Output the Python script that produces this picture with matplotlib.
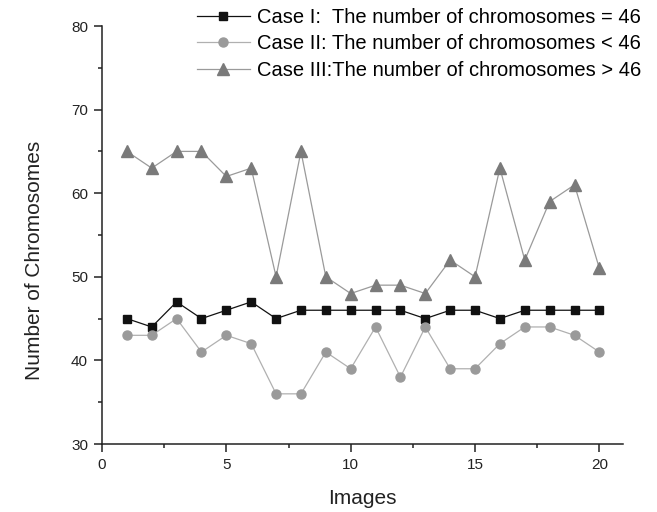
import matplotlib
matplotlib.use("Agg")
import matplotlib.pyplot as plt
from matplotlib.ticker import MultipleLocator

plt.rcParams["font.family"] = ["Liberation Sans", "DejaVu Sans"]

# image index on the x axis
images = list(range(1, 21))

# chromosome counts per case
case_1 = [45, 44, 47, 45, 46, 47, 45, 46, 46, 46, 46, 46, 45, 46, 46, 45, 46, 46, 46, 46]
case_2 = [43, 43, 45, 41, 43, 42, 36, 36, 41, 39, 44, 38, 44, 39, 39, 42, 44, 44, 43, 41]
case_3 = [65, 63, 65, 65, 62, 63, 50, 65, 50, 48, 49, 49, 48, 52, 50, 63, 52, 59, 61, 51]

labels = [
    "Case I:  The number of chromosomes = 46",
    "Case II: The number of chromosomes < 46",
    "Case III:The number of chromosomes > 46",
]

fig = plt.figure(figsize=(6.57, 5.12), dpi=100)
ax = fig.add_axes([102 / 657, 1 - 444 / 512, (623 - 102) / 657, (444 - 26) / 512])

ax.plot(images, case_1, color="#111111", lw=0.9, marker="s", ms=6,
        mfc="#111111", mec="#111111", label=labels[0])
ax.plot(images, case_2, color="#b0b0b0", lw=0.9, marker="o", ms=6.5,
        mfc="#9a9a9a", mec="#9a9a9a", label=labels[1])
ax.plot(images, case_3, color="#9a9a9a", lw=0.9, marker="^", ms=8,
        mfc="#7a7a7a", mec="#7a7a7a", label=labels[2])

ax.set_xlim(0, 20.95)
ax.set_ylim(30, 80)
ax.xaxis.set_major_locator(MultipleLocator(5))
ax.xaxis.set_minor_locator(MultipleLocator(2.5))
ax.yaxis.set_major_locator(MultipleLocator(10))
ax.yaxis.set_minor_locator(MultipleLocator(5))

for side in ("top", "right"):
    ax.spines[side].set_visible(False)
for side in ("left", "bottom"):
    ax.spines[side].set_color("#222222")
    ax.spines[side].set_linewidth(1.1)

ax.tick_params(which="major", direction="out", length=6, width=1.1,
               color="#222222", labelsize=11, labelcolor="#222222", pad=4)
ax.tick_params(which="minor", direction="out", length=3, width=1.1, color="#222222")

ax.set_xlabel("Images", fontsize=15, color="#222222", labelpad=12)
ax.set_ylabel("Number of Chromosomes", fontsize=15, color="#222222")
ax.yaxis.set_label_coords(-0.111, 0.44)

ax.legend(loc="upper left", bbox_to_anchor=(197 / 657, 1 - 8 / 512),
          bbox_transform=fig.transFigure, frameon=False, fontsize=14.5,
          handlelength=2.63, handletextpad=0.35, labelspacing=0.37,
          borderaxespad=0, borderpad=0, markerscale=1.0)

fig.savefig("out.png", dpi=100)
